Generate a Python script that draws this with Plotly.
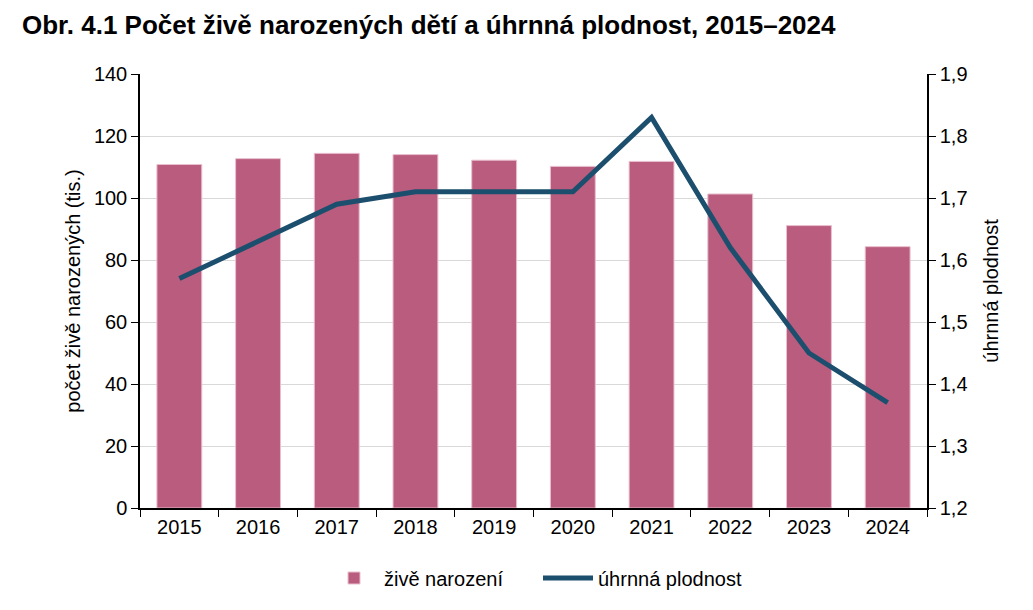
import plotly.graph_objects as go
from plotly.subplots import make_subplots

# data
years = ["2015", "2016", "2017", "2018", "2019", "2020", "2021", "2022", "2023", "2024"]
births = [110.8, 112.7, 114.4, 114.0, 112.2, 110.2, 111.8, 101.3, 91.1, 84.3]  # tis.
tfr = [1.57, 1.63, 1.69, 1.71, 1.71, 1.71, 1.83, 1.62, 1.45, 1.37]

left_ticks = [0, 20, 40, 60, 80, 100, 120, 140]
right_ticks = [1.2, 1.3, 1.4, 1.5, 1.6, 1.7, 1.8, 1.9]
right_labels = ["1,2", "1,3", "1,4", "1,5", "1,6", "1,7", "1,8", "1,9"]

FONT = "Liberation Sans, Arial, sans-serif"
BAR_COL = "#BA5C7E"
LINE_COL = "#1C4F6E"
W, H = 1033, 610
OFF = 8  # page body margin of the html output

fig = make_subplots(specs=[[{"secondary_y": True}]])

fig.add_trace(go.Bar(x=years, y=births, name="živě narození", legend="legend",
                     marker=dict(color=BAR_COL, line=dict(color="#E9BFCF", width=1))),
              secondary_y=False)
fig.add_trace(go.Scatter(x=years, y=tfr, name="úhrnná plodnost", mode="lines", legend="legend2",
                         line=dict(color=LINE_COL, width=5)),
              secondary_y=True)

### Axes ###
fig.update_xaxes(type="category", domain=[0, 1], showline=True, linecolor="black", linewidth=1.5,
                 ticks="outside", tickson="boundaries", ticklen=7, tickcolor="black",
                 tickfont=dict(size=20, color="black"), showgrid=False, automargin=False)
fig.update_yaxes(range=[0, 140], tickvals=left_ticks, showline=True, linecolor="black",
                 linewidth=1.5, ticks="outside", ticklen=7, tickcolor="black",
                 tickfont=dict(size=20, color="black"), showgrid=True, gridcolor="#D9D9D9",
                 gridwidth=1.3, zeroline=False, automargin=True,
                 title=dict(text="počet živě narozených (tis.)", font=dict(size=20, color="black"),
                            standoff=8),
                 secondary_y=False)
fig.update_yaxes(range=[1.2, 1.9], tickvals=right_ticks, ticktext=right_labels, showline=True,
                 linecolor="black", linewidth=1.5, ticks="outside", ticklen=7, tickcolor="black",
                 tickfont=dict(size=20, color="black"), showgrid=False, zeroline=False,
                 automargin=True,
                 title=dict(text="úhrnná plodnost", font=dict(size=20, color="black"), standoff=17),
                 secondary_y=True)

### Layout ###
leg_common = dict(orientation="h", xanchor="left", xref="container", yanchor="middle",
                  yref="container", font=dict(size=20, color="black"), itemwidth=50,
                  bgcolor="rgba(0,0,0,0)")
fig.update_layout(
    width=W, height=H,
    margin=dict(l=140 - OFF, r=106 + OFF, t=74 - OFF, b=102 + OFF, autoexpand=False),
    paper_bgcolor="white", plot_bgcolor="white",
    font=dict(family=FONT, color="black"),
    bargap=0.43,
    title=dict(text="<b>Obr. 4.1 Počet živě narozených dětí a úhrnná plodnost, 2015–2024</b>",
               font=dict(size=26, color="black"), x=(22 - OFF) / W, xanchor="left",
               y=1 - (25 - OFF) / H, yanchor="middle", xref="container", yref="container"),
    legend=dict(x=(384 - OFF - 60) / W, y=(H - 578 + OFF) / H, **leg_common),
    legend2=dict(x=(598 - OFF - 60) / W, y=(H - 578 + OFF) / H, **leg_common),
    showlegend=True,
)

fig.write_html("out.html")
